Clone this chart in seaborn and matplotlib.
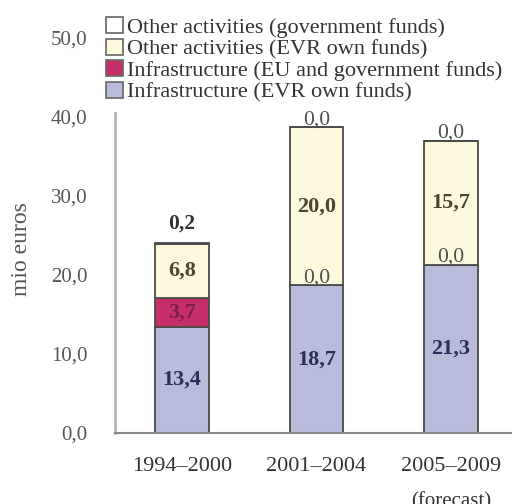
import matplotlib
matplotlib.use("Agg")
import matplotlib.pyplot as plt
from matplotlib.patches import Patch
import pandas as pd
import seaborn as sns

# Investment by period, million euros
periods = ["1994–2000", "2001–2004", "2005–2009"]
infra_evr = [13.4, 18.7, 21.3]
infra_eu_gov = [3.7, 0.0, 0.0]
other_evr = [6.8, 20.0, 15.7]
other_gov = [0.2, 0.0, 0.0]

series_names = [
    "Infrastructure (EVR own funds)",
    "Infrastructure (EU and government funds)",
    "Other activities (EVR own funds)",
    "Other activities (government funds)",
]
y_ticks = [0, 10, 20, 30, 40, 50]

layers = [infra_evr, infra_eu_gov, other_evr, other_gov]
fills = ["#b9bbda", "#c6306a", "#fcf9dc", "#ffffff"]
text_colors = ["#2a2e58", "#7a1e45", "#4a4630", "#333333"]
edge = "#4a4a4a"

sns.set_style("white")
plt.rcParams["font.family"] = ["Liberation Serif", "DejaVu Serif"]

fig = plt.figure(figsize=(5.12, 5.04), dpi=100)
ax = fig.add_axes([115 / 512, 1 - 433 / 504, (512 - 115) / 512, (433 - 38) / 504])

bottoms = [0.0] * len(periods)
for name, vals, fc in zip(series_names, layers, fills):
    df = pd.DataFrame({"period": periods, "value": vals})
    sns.barplot(data=df, x="period", y="value", bottom=bottoms, color=fc,
                saturation=1, width=0.40, edgecolor=edge, linewidth=1.3,
                errorbar=None, ax=ax)
    bottoms = [b + v for b, v in zip(bottoms, vals)]

# value labels: inside the segment, or just above it for thin segments
top_pad = [10, 2, 2]
bottoms = [0.0] * len(periods)
for vals, tc in zip(layers, text_colors):
    for i, v in enumerate(vals):
        txt = f"{v:.1f}".replace(".", ",")
        if v >= 1.0:
            ax.text(i, bottoms[i] + v / 2, txt, ha="center", va="center",
                    fontsize=16, fontweight="bold", color=tc)
        else:
            ax.annotate(txt, (i, bottoms[i] + v), xytext=(0, top_pad[i]),
                        textcoords="offset points", ha="center",
                        va="baseline", fontsize=15.5,
                        fontweight="bold" if v > 0 else "normal",
                        color="#333333" if v > 0 else "#4d4d4d")
        bottoms[i] += v

ax.set_xlim(-0.498, 2.453)
ax.set_ylim(0, 50)
ax.set_yticks(y_ticks)
ax.set_yticklabels([f"{t:.1f}".replace(".", ",") for t in y_ticks])
ax.tick_params(axis="y", length=3, color="#cccccc", pad=17, labelsize=15,
               labelcolor="#555555")
ax.tick_params(axis="x", length=0, pad=17, labelsize=16, labelcolor="#333333")
ax.set_xlabel("")
ax.set_ylabel("")
ax.annotate("(forecast)", (2, 0), xycoords=("data", "axes fraction"),
            xytext=(0, -42.5), textcoords="offset points", ha="center",
            va="top", fontsize=15, color="#333333")
fig.text(22 / 512, 1 - 249 / 504, "mio euros", rotation=90, ha="center",
         va="center", fontsize=17, color="#555555")

for side in ["top", "right"]:
    ax.spines[side].set_visible(False)
ax.spines["left"].set_bounds(0, 40.5)
ax.spines["left"].set_color("#b5b5b5")
ax.spines["left"].set_linewidth(2)
ax.spines["bottom"].set_color("#8a8a8a")
ax.spines["bottom"].set_linewidth(1.5)

handles = [Patch(facecolor=fc, edgecolor="#666666", linewidth=1.2, label=n)
           for n, fc in zip(series_names, fills)][::-1]
fig.legend(handles=handles, loc="upper left",
           bbox_to_anchor=(106 / 512, 1 - 17 / 504), frameon=False,
           fontsize=16, handlelength=0.75, handleheight=0.75,
           handletextpad=0.2, labelspacing=0.03, borderpad=0,
           borderaxespad=0, labelcolor="#333333")

fig.savefig("out.png", dpi=100)
